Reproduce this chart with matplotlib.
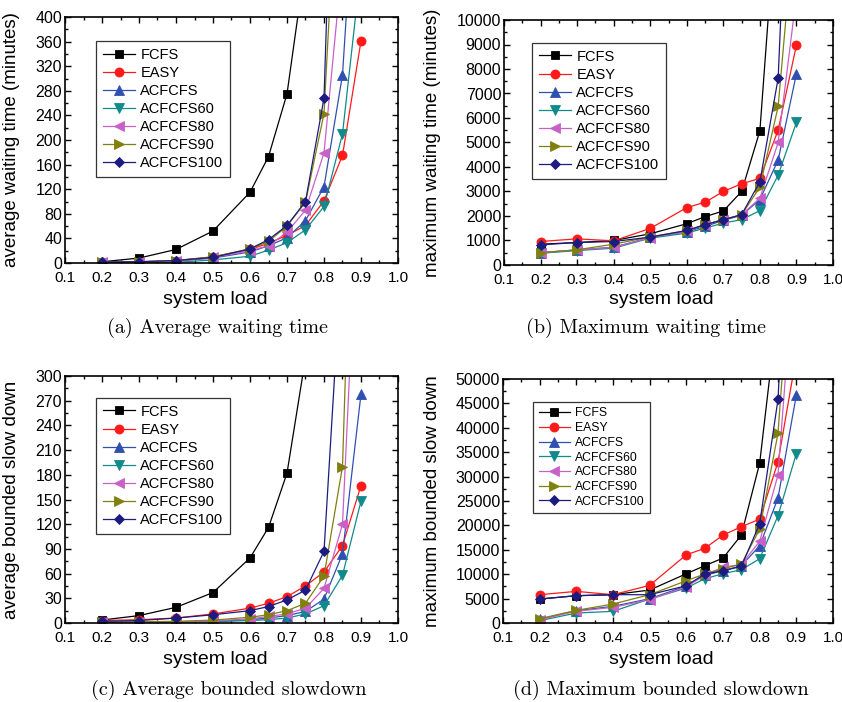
import numpy as np
import matplotlib
matplotlib.use("Agg")
import matplotlib.pyplot as plt
from matplotlib.ticker import MultipleLocator, AutoMinorLocator
from matplotlib import font_manager

# system load values (x axis)
load = [0.2, 0.3, 0.4, 0.5, 0.6, 0.65, 0.7, 0.75, 0.8, 0.85, 0.9]

names = ["FCFS", "EASY", "ACFCFS", "ACFCFS60", "ACFCFS80", "ACFCFS90", "ACFCFS100"]

# (a) average waiting time (minutes)
avg_wait_fcfs = [2, 8, 22, 52, 115, 173, 275, 490, 900, 1500, 2500]
avg_wait_easy = [1, 2, 4, 10, 22, 32, 45, 61, 101, 175, 361]
avg_wait_ac = [1, 1.5, 3, 8, 18, 28, 41, 69, 124, 306, 775]
avg_wait_ac60 = [0.5, 0.5, 1, 5, 11, 21, 33, 54, 92, 210, 481]
avg_wait_ac80 = [1, 1.5, 3, 9, 20, 28, 50, 86, 179, 493, 1200]
avg_wait_ac90 = [1, 2, 4, 10, 23, 35, 60, 99, 243, 809, 2000]
avg_wait_ac100 = [1.5, 2, 4, 9, 23, 38, 61, 100, 268, 1200, 3000]

# (b) maximum waiting time (minutes)
max_wait_fcfs = [849, 918, 1000, 1274, 1685, 1973, 2205, 3000, 5479, 15600, 30000]
max_wait_easy = [959, 1068, 986, 1493, 2342, 2562, 3000, 3315, 3534, 5507, 8973]
max_wait_ac = [507, 616, 726, 1123, 1356, 1575, 1822, 2027, 2671, 4288, 7808]
max_wait_ac60 = [479, 589, 685, 1096, 1301, 1507, 1712, 1849, 2219, 3671, 5822]
max_wait_ac80 = [500, 615, 720, 1120, 1370, 1650, 1850, 2050, 2726, 5000, 11000]
max_wait_ac90 = [500, 620, 850, 1150, 1400, 1650, 1850, 2050, 3178, 6479, 14900]
max_wait_ac100 = [822, 918, 959, 1137, 1411, 1644, 1849, 2055, 3397, 7630, 25000]

# (c) average bounded slowdown
avg_sd_fcfs = [3.6, 9, 19, 37, 79, 116, 182, 322, 600, 1000, 1500]
avg_sd_easy = [3, 4, 6, 11, 18, 24, 32, 45, 62, 94, 167]
avg_sd_ac = [1, 1, 1.5, 2, 4, 6, 9, 14, 29, 84, 278]
avg_sd_ac60 = [0.5, 0.5, 1, 1.5, 3, 4, 6, 11, 21, 58, 148]
avg_sd_ac80 = [1, 1, 1.5, 2.5, 5, 8, 11, 18, 42, 120, 600]
avg_sd_ac90 = [1, 1.5, 2, 3.5, 7, 10, 15, 24, 57, 190, 900]
avg_sd_ac100 = [2, 3, 6, 10, 15, 20, 28, 40, 87, 459, 1200]

# (d) maximum bounded slowdown
max_sd_fcfs = [4911, 5594, 5800, 6753, 10096, 11733, 13302, 18010, 32746, 65000, 100000]
max_sd_easy = [5800, 6480, 5800, 7709, 13985, 15280, 18010, 19716, 21285, 33020, 54700]
max_sd_ac = [750, 2524, 3411, 4980, 7572, 9755, 10710, 11733, 15828, 25584, 46725]
max_sd_ac60 = [478, 2047, 2388, 4912, 7163, 9073, 10096, 10915, 13166, 21968, 34725]
max_sd_ac80 = [700, 2400, 3200, 4800, 7400, 9900, 11400, 12000, 16710, 30350, 80000]
max_sd_ac90 = [887, 2593, 3888, 5800, 8664, 10028, 11120, 12075, 19238, 38880, 90000]
max_sd_ac100 = [4911, 5594, 5800, 5800, 7640, 10028, 10710, 11597, 20330, 45830, 120000]

colors = ["#000000", "#ff1a1a", "#3050b0", "#108a8a", "#c860c8", "#808010", "#1c1c80"]
markers = ["s", "o", "^", "v", "<", ">", "D"]
msizes = [5.5, 6.5, 6.5, 6.5, 6.5, 6.5, 5]

sans = "Liberation Sans"
names_avail = {f.name for f in font_manager.fontManager.ttflist}
narrow = "Liberation Sans Narrow" if "Liberation Sans Narrow" in names_avail else sans

W, H = 842, 702
fig = plt.figure(figsize=(W / 100, H / 100), dpi=100)


def px_axes(l, t, r, b):
    return fig.add_axes([l / W, 1 - b / H, (r - l) / W, (b - t) / H])


panels = [
    dict(box=(65, 17, 398, 263), data=[avg_wait_fcfs, avg_wait_easy, avg_wait_ac, avg_wait_ac60,
                                       avg_wait_ac80, avg_wait_ac90, avg_wait_ac100],
         ymax=400, ystep=40, ylabel="average waiting time (minutes)", ylab_x=12,
         leg=(0.093, 0.902), legfs=10.5, legsp=0.28, hl=2.2,
         xlab=(215, 300), cap=(218, 328), caption="(a) Average waiting time"),
    dict(box=(504, 20, 833, 265), data=[max_wait_fcfs, max_wait_easy, max_wait_ac, max_wait_ac60,
                                        max_wait_ac80, max_wait_ac90, max_wait_ac100],
         ymax=10000, ystep=1000, ylabel="maximum waiting time (minutes)", ylab_x=432,
         leg=(0.085, 0.906), legfs=10.5, legsp=0.28, hl=2.2,
         xlab=(661, 300), cap=(646, 328), caption="(b) Maximum waiting time"),
    dict(box=(65, 376, 398, 623), data=[avg_sd_fcfs, avg_sd_easy, avg_sd_ac, avg_sd_ac60,
                                        avg_sd_ac80, avg_sd_ac90, avg_sd_ac100],
         ymax=300, ystep=30, ylabel="average bounded slow down", ylab_x=12,
         leg=(0.093, 0.911), legfs=10.5, legsp=0.28, hl=2.2,
         xlab=(215, 660), cap=(229, 690), caption="(c) Average bounded slowdown"),
    dict(box=(503, 379, 833, 623), data=[max_sd_fcfs, max_sd_easy, max_sd_ac, max_sd_ac60,
                                         max_sd_ac80, max_sd_ac90, max_sd_ac100],
         ymax=50000, ystep=5000, ylabel="maximum bounded slow down", ylab_x=432,
         leg=(0.091, 0.906), legfs=8.8, legsp=0.22, hl=2.6,
         xlab=(661, 660), cap=(661, 690), caption="(d) Maximum bounded slowdown"),
]

for p in panels:
    l, t, r, b = p["box"]
    ax = px_axes(l, t, r, b)
    for name, ys, c, m, ms in zip(names, p["data"], colors, markers, msizes):
        ax.plot(load, ys, color=c, marker=m, markersize=ms, linewidth=0.9,
                markeredgewidth=0.6, label=name)
    ax.set_xlim(0.1, 1.0)
    ax.set_ylim(0, p["ymax"])
    ax.xaxis.set_major_locator(MultipleLocator(0.1))
    ax.xaxis.set_minor_locator(AutoMinorLocator(2))
    ax.yaxis.set_major_locator(MultipleLocator(p["ystep"]))
    ax.yaxis.set_minor_locator(AutoMinorLocator(2))
    ax.tick_params(which="both", direction="in", top=True, right=True, width=1.0)
    ax.tick_params(which="major", length=4.5)
    ax.tick_params(which="minor", length=2.5)
    ax.tick_params(axis="x", pad=6)
    ax.tick_params(axis="y", pad=2)
    for s in ax.spines.values():
        s.set_linewidth(1.2)
    ax.set_xticks(np.arange(0.1, 1.01, 0.1))
    ax.set_xticklabels([f"{v:.1f}" for v in np.arange(0.1, 1.01, 0.1)],
                       fontsize=11, family=narrow)
    for lab in ax.get_yticklabels():
        lab.set_fontfamily(sans)
        lab.set_fontsize(11.5)

    leg = ax.legend(loc="upper left", bbox_to_anchor=p["leg"], borderaxespad=0,
                    fancybox=False, framealpha=1, edgecolor="#333333",
                    prop={"family": sans, "size": p["legfs"]},
                    handlelength=p["hl"], handletextpad=0.4, labelspacing=p["legsp"],
                    borderpad=0.45)
    leg.get_frame().set_linewidth(0.9)

    fig.text(p["ylab_x"] / W, 1 - ((t + b) / 2) / H, p["ylabel"], rotation=90,
             ha="center", va="center", family=sans, fontsize=13.5)
    fig.text(p["xlab"][0] / W, 1 - p["xlab"][1] / H, "system load",
             ha="center", va="center", family=sans, fontsize=14)
    fig.text(p["cap"][0] / W, 1 - p["cap"][1] / H, p["caption"],
             ha="center", va="center", family="cmr10", fontsize=14.5)

fig.savefig("out.png", dpi=100)
